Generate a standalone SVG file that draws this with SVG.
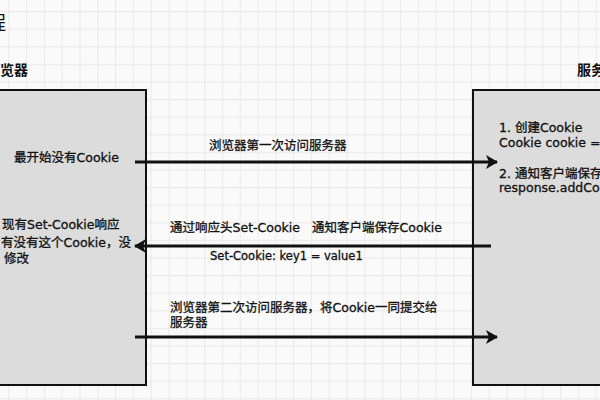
<svg xmlns="http://www.w3.org/2000/svg" width="600" height="400" viewBox="0 0 600 400">
  <style>
    .t { font-family: "DejaVu Sans", "Noto Sans CJK SC", sans-serif; font-size: 12.5px; fill: #111; stroke: #111; stroke-width: 0.3; }
    .h { font-family: "Noto Sans CJK SC", sans-serif; font-size: 14px; font-weight: 600; fill: #111; }
    .box { fill: #dcdcdc; stroke: #111; stroke-width: 2; }
    .arr { stroke: #111; stroke-width: 3; fill: none; }
  </style>
  <defs>
    <pattern id="grid" patternUnits="userSpaceOnUse" x="8.3" y="11" width="17.8" height="17.6">
      <path d="M0 0.5 H17.8 M0.5 0 V17.6" stroke="#ebebeb" stroke-width="1.2" fill="none"/>
    </pattern>
    <marker id="ah" markerUnits="userSpaceOnUse" markerWidth="12" markerHeight="14" refX="11" refY="7" orient="auto">
      <path d="M0 0 L12 7 L0 14 L3 7 Z" fill="#111"/>
    </marker>
  </defs>
  <rect x="0" y="0" width="600" height="400" fill="#fafafa"/>
  <rect x="0" y="0" width="600" height="400" fill="url(#grid)"/>

  <text class="h" x="6" y="30" text-anchor="end" style="font-size:19px;font-weight:400">程</text>
  <text class="h" x="-14" y="75">浏览器</text>
  <text class="h" x="577" y="75">服务器</text>

  <g id="browser">
    <rect class="box" x="-10" y="90" width="156" height="295"/>
    <text class="t" x="14" y="162">最开始没有Cookie</text>
    <text class="t" x="2" y="229">现有Set-Cookie响应</text>
    <text class="t" x="1" y="247">有没有这个Cookie，没</text>
    <text class="t" x="4" y="263">修改</text>
  </g>

  <g id="server">
    <rect class="box" x="473" y="90" width="140" height="295"/>
    <text class="t" x="499" y="132">1. 创建Cookie</text>
    <text class="t" x="499" y="147">Cookie cookie = new</text>
    <text class="t" x="499" y="178">2. 通知客户端保存Cookie</text>
    <text class="t" x="499" y="192">response.addCookie(cookie)</text>
  </g>

  <g id="connectors">
    <line class="arr" x1="135" y1="162" x2="497" y2="162" marker-end="url(#ah)"/>
    <line class="arr" x1="491" y1="246" x2="135" y2="246" marker-end="url(#ah)"/>
    <line class="arr" x1="135" y1="337" x2="497" y2="337" marker-end="url(#ah)"/>
    <text class="t" x="209" y="150">浏览器第一次访问服务器</text>
    <text class="t" x="170" y="232">通过响应头Set-Cookie</text>
    <text class="t" x="312" y="232">通知客户端保存Cookie</text>
    <text class="t" x="210" y="260" style="font-size:11.5px">Set-Cookie: key1 = value1</text>
    <text class="t" x="170" y="312">浏览器第二次访问服务器，将Cookie一同提交给</text>
    <text class="t" x="170" y="327">服务器</text>
  </g>
</svg>
